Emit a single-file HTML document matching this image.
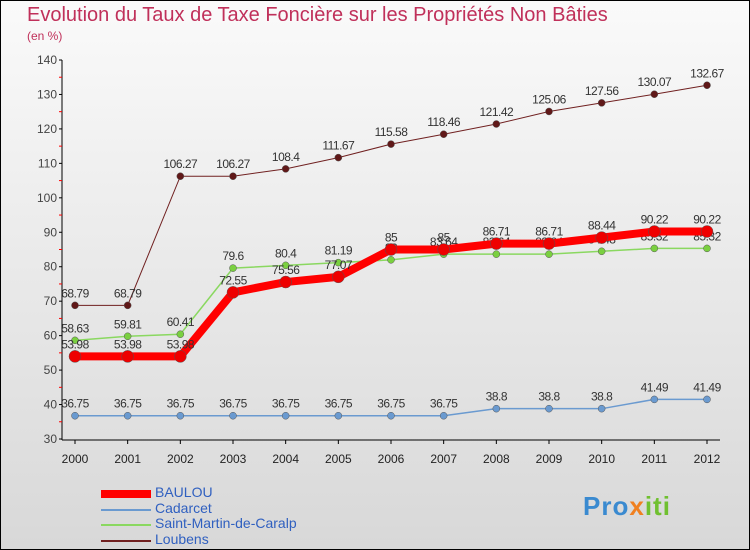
<!DOCTYPE html>
<html><head><meta charset="utf-8">
<style>
body{margin:0;}
#wrap{width:748px;height:548px;border:1px solid #000;position:relative;background:linear-gradient(#fafafa,#d8d8d8);overflow:hidden;font-family:"Liberation Sans",sans-serif;}
.title{position:absolute;left:26px;top:3px;font-size:20px;color:#c0305a;}
.sub{position:absolute;left:26px;top:28px;font-size:12px;color:#c0305a;}
.leg{position:absolute;left:100px;font-size:14px;color:#3060c0;}
.sw{position:absolute;left:100px;width:50px;}
</style></head><body>
<div id="wrap">
<div class="title">Evolution du Taux de Taxe Foncière sur les Propriétés Non Bâties</div>
<div class="sub">(en %)</div>
<svg id="svg" width="750" height="550" style="position:absolute;left:-1px;top:-1px"></svg>
<div class="sw" style="top:489px;height:8px;background:#f00"></div>
<div class="leg" style="top:483px;left:154px">BAULOU</div>
<div class="sw" style="top:508px;height:2px;background:#6a9ad0"></div>
<div class="leg" style="top:499px;left:154px">Cadarcet</div>
<div class="sw" style="top:523px;height:2px;background:#8ad860"></div>
<div class="leg" style="top:514px;left:154px">Saint-Martin-de-Caralp</div>
<div class="sw" style="top:539px;height:2px;background:#702020"></div>
<div class="leg" style="top:530px;left:154px">Loubens</div>
<div style="position:absolute;left:582px;top:490px;font-size:26px;font-weight:bold;color:#3a8ad0;letter-spacing:1px">Pro<span style="color:#f08020">x</span><span style="color:#70c030">iti</span></div>
</div>
<script>
const years=[2000,2001,2002,2003,2004,2005,2006,2007,2008,2009,2010,2011,2012];
const yTicks=[30,40,50,60,70,80,90,100,110,120,130,140];
const baulou=[53.98,53.98,53.98,72.55,75.56,77.07,85,85,86.71,86.71,88.44,90.22,90.22];
const cadarcet=[36.75,36.75,36.75,36.75,36.75,36.75,36.75,36.75,38.8,38.8,38.8,41.49,41.49];
const stmartin=[58.63,59.81,60.41,79.6,80.4,81.19,82,83.64,83.64,83.64,84.48,85.32,85.32];
const loubens=[68.79,68.79,106.27,106.27,108.4,111.67,115.58,118.46,121.42,125.06,127.56,130.07,132.67];
const svg=document.getElementById('svg');const NS='http://www.w3.org/2000/svg';
const X=i=>75+i*(707-75)/12;const Y=v=>439-(v-30)*(379/110);
function mk(t,a,p){const e=document.createElementNS(NS,t);for(const k in a)e.setAttribute(k,a[k]);(p||svg).appendChild(e);return e;}
let ax=mk('line',{x1:62,y1:60,x2:62,y2:440,stroke:'#000'});


let bx=mk('line',{x1:62,y1:440,x2:720,y2:440,stroke:'#000'});


yTicks.forEach(v=>{mk('line',{x1:59,y1:Y(v),x2:62,y2:Y(v),stroke:'#000'});
if(v<140)mk('line',{x1:59,y1:Y(v+5),x2:62,y2:Y(v+5),stroke:'#f00'});
const t=mk('text',{x:57,y:Y(v)+4,'text-anchor':'end','font-size':12,fill:'#444','font-family':'Liberation Sans'});t.textContent=v;

});
years.forEach((y,i)=>{mk('line',{x1:X(i),y1:440,x2:X(i),y2:444,stroke:'#000'});
const t=mk('text',{x:X(i),y:463,'text-anchor':'middle','font-size':12,fill:'#222','font-family':'Liberation Sans'});t.textContent=y;

});
function series(d,name,col,w,r,dot){const g=mk('g',{});


mk('polyline',{points:d.map((v,i)=>X(i)+','+Y(v)).join(' '),fill:'none',stroke:col,'stroke-width':w},g);
d.forEach((v,i)=>{const c=mk('circle',{cx:X(i),cy:Y(v),r:r,fill:dot,stroke:'#555','stroke-width':0.5},g);


const t=mk('text',{x:X(i),y:Y(v)-8,'text-anchor':'middle','font-size':12,fill:'#333','font-family':'Liberation Sans','letter-spacing':'-0.5'},g);t.textContent=v;

});}
series(cadarcet,'cadarcet','#6a9ad0',1.5,3.5,'#6a9ad0');
series(stmartin,'stmartin','#8ad860',1.5,3.5,'#7ad040');
series(baulou,'baulou','#f00',8,6,'#e00');
series(loubens,'loubens','#702020',1,3.5,'#601818');
</script>
</body></html>
